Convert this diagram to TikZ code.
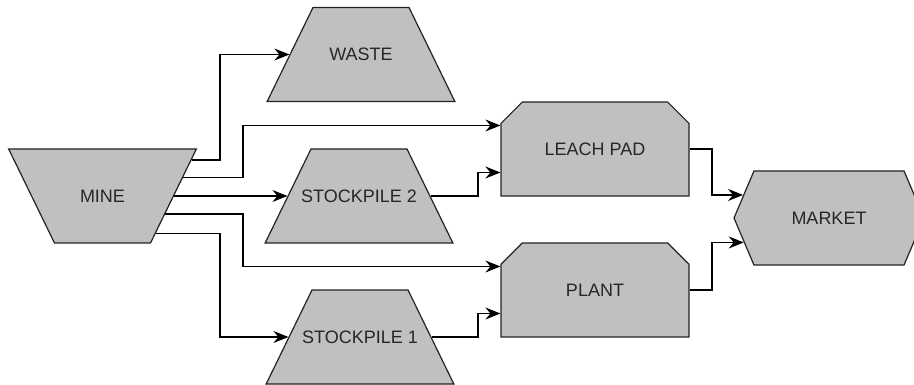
\documentclass[tikz,border=0pt]{standalone}
\usepackage{fontspec}
\setmainfont{Liberation Sans}
\usetikzlibrary{shapes.geometric,shapes.misc,shapes.symbols,arrows.meta,calc}
\definecolor{boxfill}{RGB}{192,192,192}
\definecolor{boxline}{RGB}{35,35,35}
\begin{document}
\begin{tikzpicture}[x=1pt,y=-1pt,
 txt/.style={font=\fontsize{18}{21}\selectfont, text=black!85},
 base/.style={draw=boxline, fill=boxfill, line width=1.2pt, txt},
 pile/.style={base, trapezium, trapezium left angle=64, trapezium right angle=64,
   inner xsep=48pt, inner ysep=47pt},
 unit/.style={base, inner sep=0pt, minimum width=188pt, minimum height=94pt,
   chamfered rectangle, chamfered rectangle corners={north west,north east},
   chamfered rectangle xsep=15pt, chamfered rectangle ysep=15pt},
 sale/.style={base, inner sep=0pt, minimum width=190pt, minimum height=94pt,
   signal, signal to=west and east, signal pointer angle=134},
 flow/.style={draw=black, line width=1.2pt, -{Stealth[length=15pt,width=12pt,inset=5pt]}}
]
\clip (0,0) rectangle (914,385);
\node[pile, shape border rotate=180, label={[txt]center:MINE}] (mine) at (102.5,196) {};
\node[pile, label={[txt]center:WASTE}] (waste) at (361,54.5) {};
\node[pile, label={[txt]center:STOCKPILE 2}] (stock2) at (359,196) {};
\node[pile, label={[txt]center:STOCKPILE 1}] (stock1) at (360,337) {};
\node[unit] (leach) at (595,149) {LEACH PAD};
\node[unit] (plant) at (595,290) {PLANT};
\node[sale] (market) at (829,218) {MARKET};

\coordinate (lx) at (220,0);
\coordinate (rx) at (243,0);
\coordinate (sx) at (478,0);
\coordinate (mx) at (712,0);
\coordinate (m1) at (mine.22.85);
\coordinate (m2) at (mine.13.2);
\coordinate (m3) at (mine.0);
\coordinate (m4) at (mine.-16.8);
\coordinate (m5) at (mine.-35.2);
\coordinate (leachA) at ($(leach.west)+(0,-23.5)$);
\coordinate (leachB) at ($(leach.west)+(0,23.5)$);
\coordinate (plantA) at ($(plant.west)+(0,-23.5)$);
\coordinate (plantB) at ($(plant.west)+(0,23.5)$);

\draw[flow] (m1) -- (m1 -| lx) |- (waste.west);
\draw[flow] (m2) -- (m2 -| rx) |- (leachA);
\draw[flow] (m3) -- (stock2.west);
\draw[flow] (m4) -- (m4 -| rx) |- (plantA);
\draw[flow] (m5) -- (m5 -| lx) |- (stock1.west);
\draw[flow] (stock2.east) -- (stock2.east -| sx) |- (leachB);
\draw[flow] (stock1.east) -- (stock1.east -| sx) |- (plantB);
\draw[flow] (leach.east) -- (leach.east -| mx) |- (market.165.5);
\draw[flow] (plant.east) -- (plant.east -| mx) |- (market.196.5);
\end{tikzpicture}
\end{document}
